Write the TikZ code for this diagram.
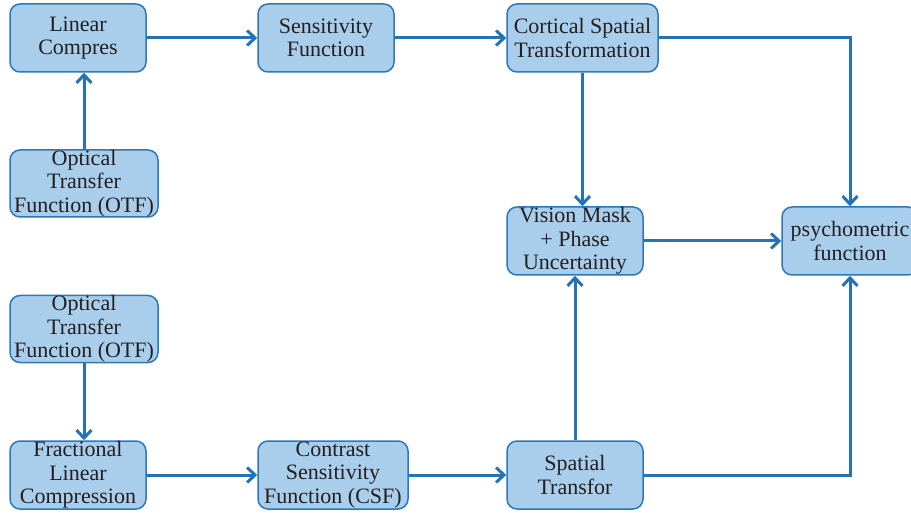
\documentclass[tikz,border=0pt]{standalone}
\usepackage{fontspec}
\setmainfont{Liberation Serif}
\usetikzlibrary{arrows.meta}
\definecolor{boxfill}{HTML}{A9CEEC}
\definecolor{boxline}{HTML}{2E78B8}
\definecolor{arrowc}{HTML}{2572B4}
\definecolor{txt}{HTML}{231F20}
\tikzset{
  blk/.style={draw=boxline,fill=boxfill,line width=1.5pt,rounded corners=10pt,
    align=center,text=txt,minimum height=68pt,inner xsep=1pt,inner ysep=0pt,
    font=\fontsize{22}{23.5}\selectfont},
  flow/.style={draw=arrowc,line width=3pt,-{Straight Barb[length=8pt,width=15pt]}}
}
\begin{document}
\begin{tikzpicture}[x=1pt,y=-1pt]
\useasboundingbox (0,0) rectangle (911,513);

\node[blk,minimum width=136pt] (lin) at (78,38) {Linear\\Compres};
\node[blk,minimum width=136pt] (sen) at (326,38) {Sensitivity\\Function};
\node[blk,minimum width=151pt] (cor) at (582.5,38) {Cortical Spatial\\Transformation};
\node[blk,minimum width=148pt,minimum height=67pt] (otfa) at (84,183.5) {Optical\\Transfer\\Function (OTF)};
\node[blk,minimum width=136pt] (vis) at (575,241) {Vision Mask\\+ Phase\\Uncertainty};
\node[blk,minimum width=136pt] (psy) at (850,241) {psychometric\\function};
\node[blk,minimum width=148pt,minimum height=67pt] (otfb) at (84,329) {Optical\\Transfer\\Function (OTF)};
\node[blk,minimum width=136pt] (fra) at (78,475) {Fractional\\Linear\\Compression};
\node[blk,minimum width=150pt] (con) at (333,475) {Contrast\\Sensitivity\\Function (CSF)};
\node[blk,minimum width=136pt] (spa) at (575,475) {Spatial\\Transfor};

\draw[flow] (lin) -- (sen);
\draw[flow] (sen) -- (cor);
\draw[flow] (cor.east) -| (psy.north);
\draw[flow] (cor.south) -- (cor.south |- vis.north);
\draw[flow] (vis) -- (psy);
\draw[flow] (otfa.north) -- (otfa.north |- lin.south);
\draw[flow] (otfb.south) -- (otfb.south |- fra.north);
\draw[flow] (fra) -- (con);
\draw[flow] (con) -- (spa);
\draw[flow] (spa) -- (vis);
\draw[flow] (spa.east) -| (psy.south);
\end{tikzpicture}
\end{document}
